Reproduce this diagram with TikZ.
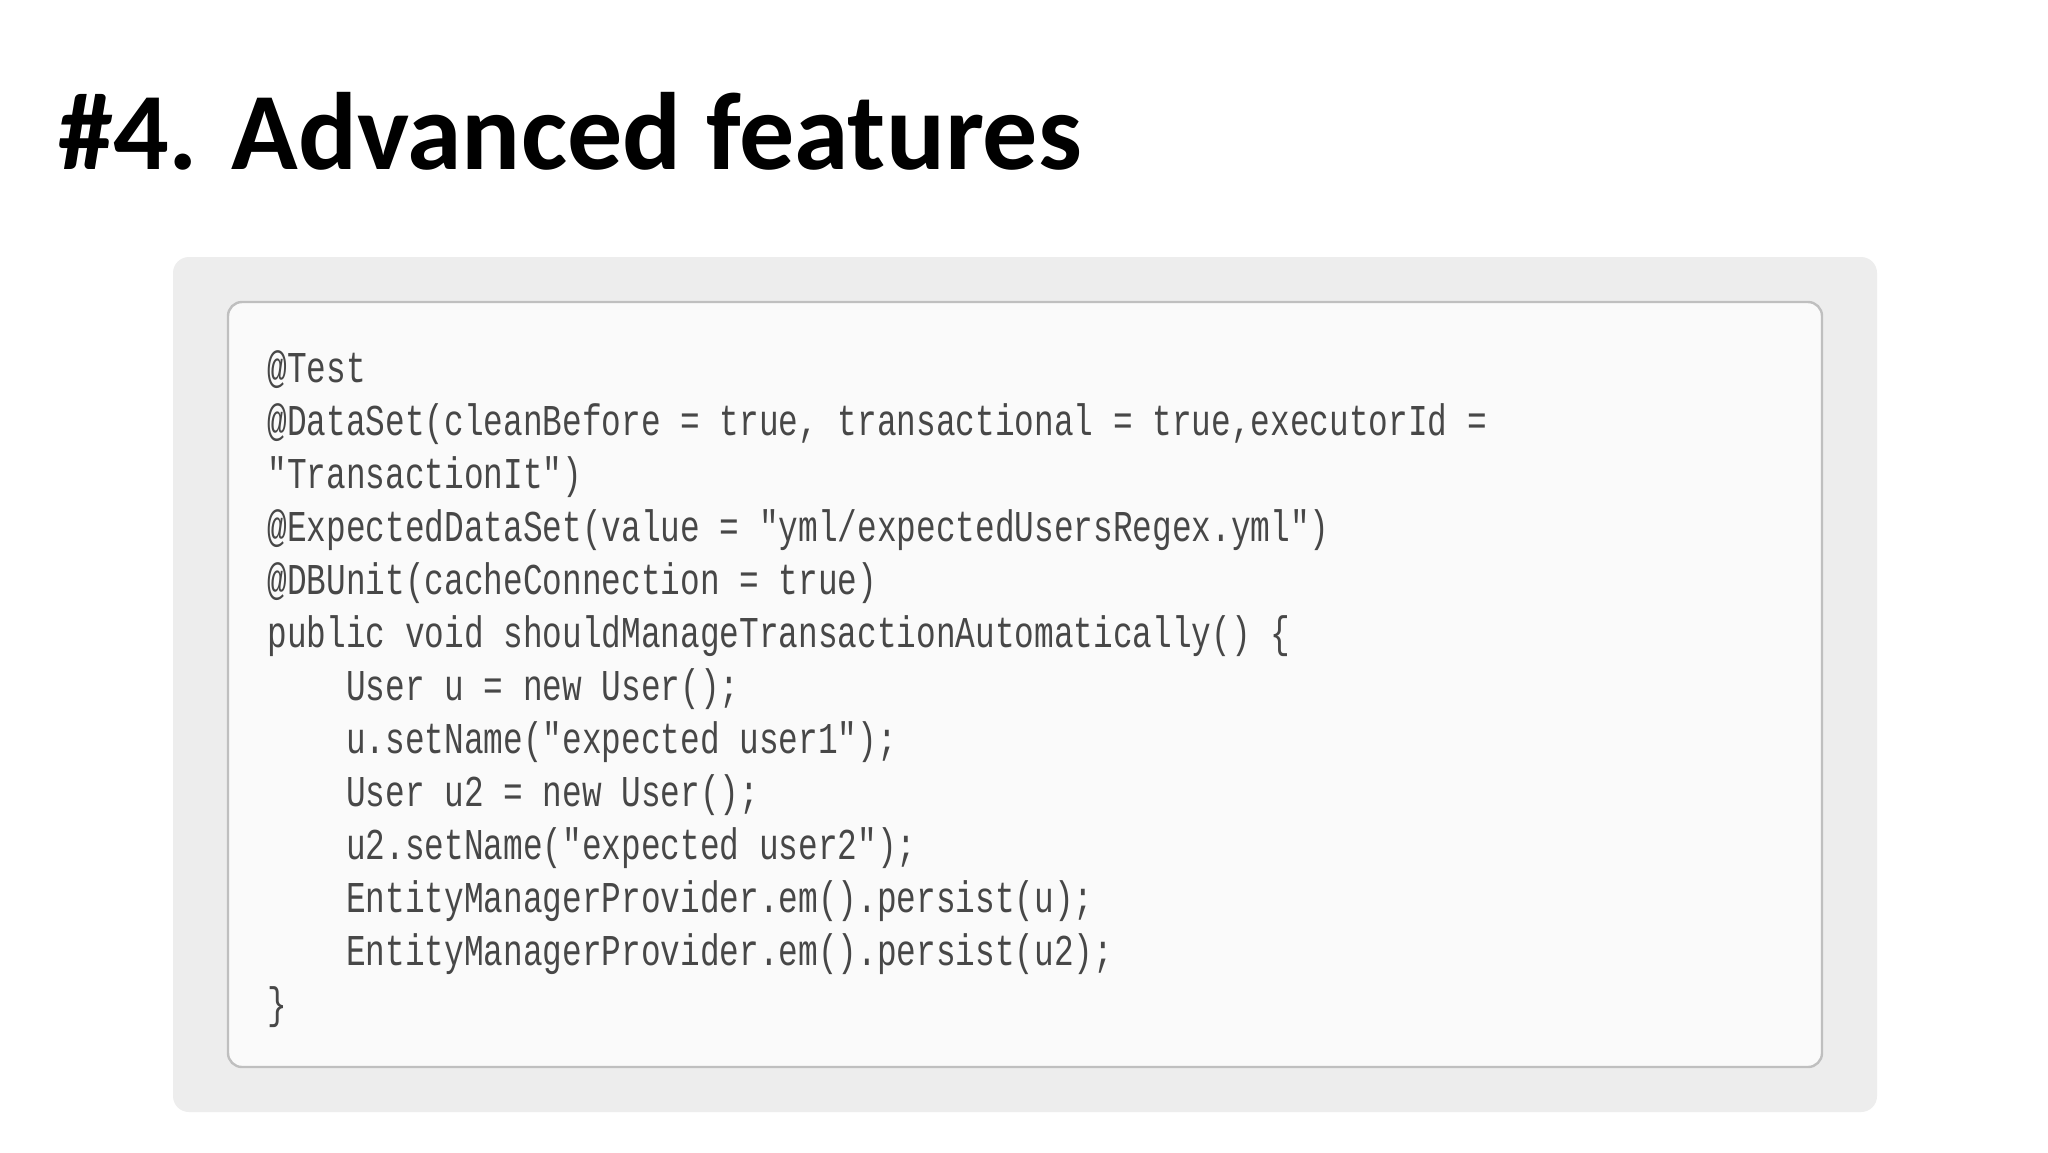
\documentclass[tikz,border=0pt]{standalone}
\usepackage{fontspec}
\setmainfont{Carlito}
\newfontfamily\codefont[FakeStretch=0.745]{Liberation Mono}
\begin{document}
\begin{tikzpicture}[x=0.5pt,y=-0.5pt,
  codeline/.style={anchor=base west,inner sep=0pt,text=black!72,font=\codefont\fontsize{22pt}{22pt}\selectfont}]
\useasboundingbox (0,0) rectangle (2048,1152);
\fill[white] (0,0) rectangle (2048,1152);
\node[anchor=base west,inner sep=0pt,font=\bfseries\fontsize{55pt}{55pt}\selectfont] (title) at (58,169) {\#4. Advanced features};
\fill[black!7,rounded corners=8pt] (173,257) rectangle (1877,1112);
\draw[black!25,line width=1.2pt,fill=black!2,rounded corners=7pt] (228,302) rectangle (1822,1067);
\foreach \t [count=\i from 0] in {
 {@Test},
 {@DataSet(cleanBefore = true, transactional = true,executorId =},
 {"TransactionIt")},
 {@ExpectedDataSet(value = "yml/expectedUsersRegex.yml")},
 {@DBUnit(cacheConnection = true)},
 {public void shouldManageTransactionAutomatically() \{},
 {\ \ \ \ User u = new User();},
 {\ \ \ \ u.setName("expected user1");},
 {\ \ \ \ User u2 = new User();},
 {\ \ \ \ u2.setName("expected user2");},
 {\ \ \ \ EntityManagerProvider.em().persist(u);},
 {\ \ \ \ EntityManagerProvider.em().persist(u2);},
 {\}}}
 \node[codeline] (line\i) at (267,{382+53.0*\i}) {\t};
\end{tikzpicture}
\end{document}
